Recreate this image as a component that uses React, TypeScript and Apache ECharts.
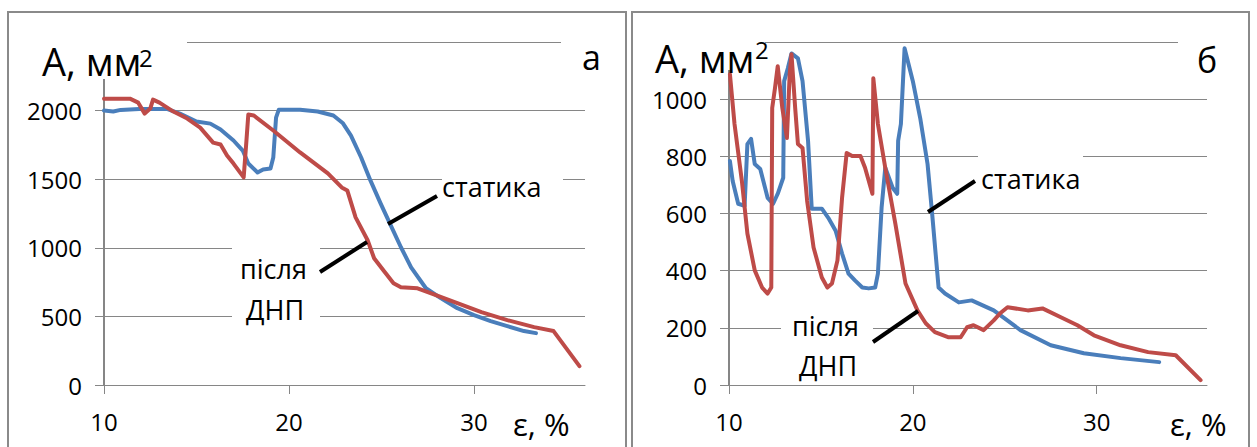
import { useEffect, useRef } from 'react';
import * as echarts from 'echarts';

// Strain ticks shared by both panels (ε, %)
const strainTicks = [10, 20, 30];
const strainMin = 10;
const strainMax = 36;

// Panel "а": static loading
const aStaticStrain = [10, 10.5, 10.9, 11.9, 13.4, 14.1, 15.0, 15.75, 16.3, 17.0, 17.5, 17.8, 18.3, 18.6, 19.0, 19.15, 19.3, 19.45, 20.6, 21.55, 22.4, 22.9, 23.35, 23.9, 24.4, 24.95, 25.5, 26.05, 26.6, 27.4, 28.2, 29.1, 30.0, 30.9, 31.8, 32.7, 33.35];
const aStaticArea = [2000, 1993, 2005, 2012, 2012, 1978, 1920, 1905, 1862, 1782, 1709, 1614, 1549, 1571, 1578, 1658, 1949, 2007, 2007, 1993, 1964, 1910, 1818, 1658, 1491, 1324, 1164, 1004, 858, 705, 633, 560, 509, 465, 429, 393, 378];

// Panel "а": after ДНП
const aDnpStrain = [10, 11.4, 11.85, 12.2, 12.5, 12.65, 13.0, 13.75, 14.5, 15.2, 15.9, 16.3, 16.65, 17.0, 17.55, 17.7, 17.8, 18.1, 19.15, 20.6, 22.1, 22.85, 23.15, 23.6, 24.25, 24.6, 25.1, 25.65, 26.05, 26.95, 27.65, 29.1, 30.4, 31.8, 33.25, 34.3, 35.7];
const aDnpArea = [2087, 2087, 2058, 1978, 2015, 2080, 2058, 1993, 1942, 1876, 1767, 1753, 1673, 1614, 1513, 1782, 1971, 1964, 1855, 1695, 1542, 1440, 1418, 1222, 1055, 924, 836, 742, 713, 705, 669, 596, 531, 473, 422, 393, 138];

// Panel "б": static loading
const bStaticStrain = [10.05, 10.2, 10.5, 10.85, 11.0, 11.2, 11.4, 11.7, 12.1, 12.4, 12.65, 12.95, 13.0, 13.2, 13.4, 13.75, 14.0, 14.3, 14.5, 15.05, 15.4, 15.8, 16.15, 16.5, 16.85, 17.25, 17.6, 17.95, 18.1, 18.3, 18.5, 18.9, 19.15, 19.2, 19.35, 19.55, 20.0, 20.4, 20.8, 21.05, 21.4, 21.75, 22.5, 23.2, 24.4, 25.85, 27.5, 29.3, 31.3, 33.4];
const bStaticArea = [784, 714, 634, 627, 843, 861, 773, 756, 655, 634, 669, 725, 1063, 1108, 1160, 1143, 1063, 854, 617, 617, 585, 540, 460, 390, 366, 341, 338, 341, 390, 620, 760, 690, 669, 854, 913, 1178, 1063, 934, 773, 599, 341, 320, 289, 296, 261, 192, 139, 111, 94, 80];

// Panel "б": after ДНП
const bDnpStrain = [10.05, 10.3, 10.7, 11.0, 11.4, 11.8, 12.1, 12.3, 12.35, 12.5, 12.65, 12.9, 13.15, 13.3, 13.4, 13.6, 13.75, 14.0, 14.25, 14.6, 15.05, 15.35, 15.6, 15.9, 16.15, 16.4, 16.7, 17.15, 17.4, 17.8, 17.85, 18.1, 18.5, 19.05, 19.6, 20.25, 20.7, 21.2, 21.95, 22.6, 22.95, 23.3, 23.85, 24.4, 24.75, 25.15, 26.25, 27.05, 28.05, 28.95, 29.85, 31.3, 32.8, 34.3, 35.65];
const bDnpArea = [1087, 913, 714, 530, 401, 341, 320, 341, 969, 1038, 1115, 969, 864, 1087, 1157, 969, 843, 829, 644, 481, 376, 341, 355, 436, 655, 812, 801, 801, 760, 669, 1073, 913, 760, 564, 355, 261, 216, 185, 167, 167, 202, 209, 192, 226, 251, 272, 261, 268, 237, 209, 174, 139, 115, 104, 17];

const blue = '#4a7ebb';
const red = '#be4b48';
const gray = '#868686';
const font = 'Open Sans';

const zip = (xs: number[], ys: number[]) => xs.map((x, i) => [x, ys[i]]);

const xAxisBase = (gridIndex: number) => ({
  type: 'value',
  gridIndex,
  min: strainMin,
  max: strainMax,
  interval: 10,
  axisLine: { show: true, onZero: false, lineStyle: { color: gray, width: 1 } },
  axisTick: { show: true, length: 9, customValues: strainTicks, lineStyle: { color: gray, width: 1 } },
  axisLabel: {
    customValues: strainTicks,
    color: '#000',
    fontSize: 24,
    fontFamily: font,
    margin: 24,
    formatter: (v: number) => (strainTicks.includes(v) ? String(v) : ''),
  },
  splitLine: { show: false },
});

const yAxisBase = (gridIndex: number, max: number, interval: number) => ({
  type: 'value',
  gridIndex,
  min: 0,
  max,
  interval,
  axisLine: { show: true, lineStyle: { color: gray, width: 2 } },
  axisTick: { show: true, length: 9, lineStyle: { color: gray, width: 1 } },
  axisLabel: {
    showMaxLabel: false,
    color: '#000',
    fontSize: 24,
    fontFamily: font,
    margin: 22,
    formatter: (v: number) => String(v),
  },
  splitLine: { show: true, lineStyle: { color: gray, width: 1 } },
});

const lineSeries = (name: string, data: number[][], color: string, idx: number) => ({
  name,
  type: 'line',
  xAxisIndex: idx,
  yAxisIndex: idx,
  data,
  showSymbol: false,
  symbol: 'none',
  z: 2,
  lineStyle: { color, width: 4, cap: 'round', join: 'round' },
});

const mask = (x: number, y: number, width: number, height: number) => ({
  type: 'rect',
  z: 1,
  silent: true,
  shape: { x, y, width, height },
  style: { fill: '#fff' },
});

const leader = (x1: number, y1: number, x2: number, y2: number) => ({
  type: 'line',
  z: 4,
  silent: true,
  shape: { x1, y1, x2, y2 },
  style: { stroke: '#000', lineWidth: 4 },
});

const label = (text: string, x: number, y: number, fontSize: number) => ({
  type: 'text',
  z: 4,
  silent: true,
  style: {
    text,
    x,
    y,
    fill: '#000',
    fontSize,
    lineHeight: fontSize,
    fontFamily: font,
    align: 'left',
    verticalAlign: 'middle',
  },
});

const frame = (x: number, width: number) => ({
  type: 'rect',
  z: 4,
  silent: true,
  shape: { x, y: 12, width, height: 470 },
  style: { fill: 'none', stroke: '#8a8a8a', lineWidth: 2 },
});

export default function App() {
  const ref = useRef<HTMLDivElement>(null);

  useEffect(() => {
    if (!ref.current) return;
    const chart = echarts.init(ref.current, undefined, { renderer: 'svg' });
    chart.setOption({
      animation: false,
      backgroundColor: '#fff',
      grid: [
        { left: 104, top: 42, width: 481, height: 343 },
        { left: 729, top: 42, width: 478, height: 343 },
      ],
      xAxis: [xAxisBase(0), xAxisBase(1)],
      yAxis: [yAxisBase(0, 2500, 500), yAxisBase(1, 1200, 200)],
      series: [
        lineSeries('статика', zip(aStaticStrain, aStaticArea), blue, 0),
        lineSeries('після ДНП', zip(aDnpStrain, aDnpArea), red, 0),
        lineSeries('статика', zip(bStaticStrain, bStaticArea), blue, 1),
        lineSeries('після ДНП', zip(bDnpStrain, bDnpArea), red, 1),
      ],
      graphic: [
        // white boxes behind the labels that interrupt the grid lines
        mask(95, 28, 92, 51),
        mask(561, 32, 30, 45),
        mask(442, 168, 121, 32),
        mask(232, 238, 88, 86),
        mask(718, 28, 47, 42),
        mask(1178, 32, 32, 45),
        mask(978, 148, 105, 50),
        mask(781, 318, 92, 62),
        frame(8, 618),
        frame(632, 617),
        leader(437, 196, 388, 224),
        leader(320, 272, 367, 242),
        leader(975, 181, 928, 212),
        leader(873, 342, 918, 311),
        // panel а
        label('A, мм', 42, 61, 38),
        label('2', 139, 57, 24),
        label('а', 582, 57, 34),
        label('статика', 442, 186, 27),
        label('після', 240, 268, 27),
        label('ДНП', 246, 309, 27),
        label('ε, %', 513, 424, 31),
        // panel б
        label('A, мм', 655, 58, 38),
        label('2', 755, 49, 24),
        label('б', 1197, 60, 34),
        label('статика', 981, 178, 27),
        label('після', 792, 325, 27),
        label('ДНП', 799, 365, 27),
        label('ε, %', 1170, 424, 31),
      ],
    });
    return () => chart.dispose();
  }, []);

  return (
    <div
      ref={ref}
      style={{ position: 'fixed', left: 0, top: 0, width: 1257, height: 447, background: '#fff' }}
    />
  );
}
